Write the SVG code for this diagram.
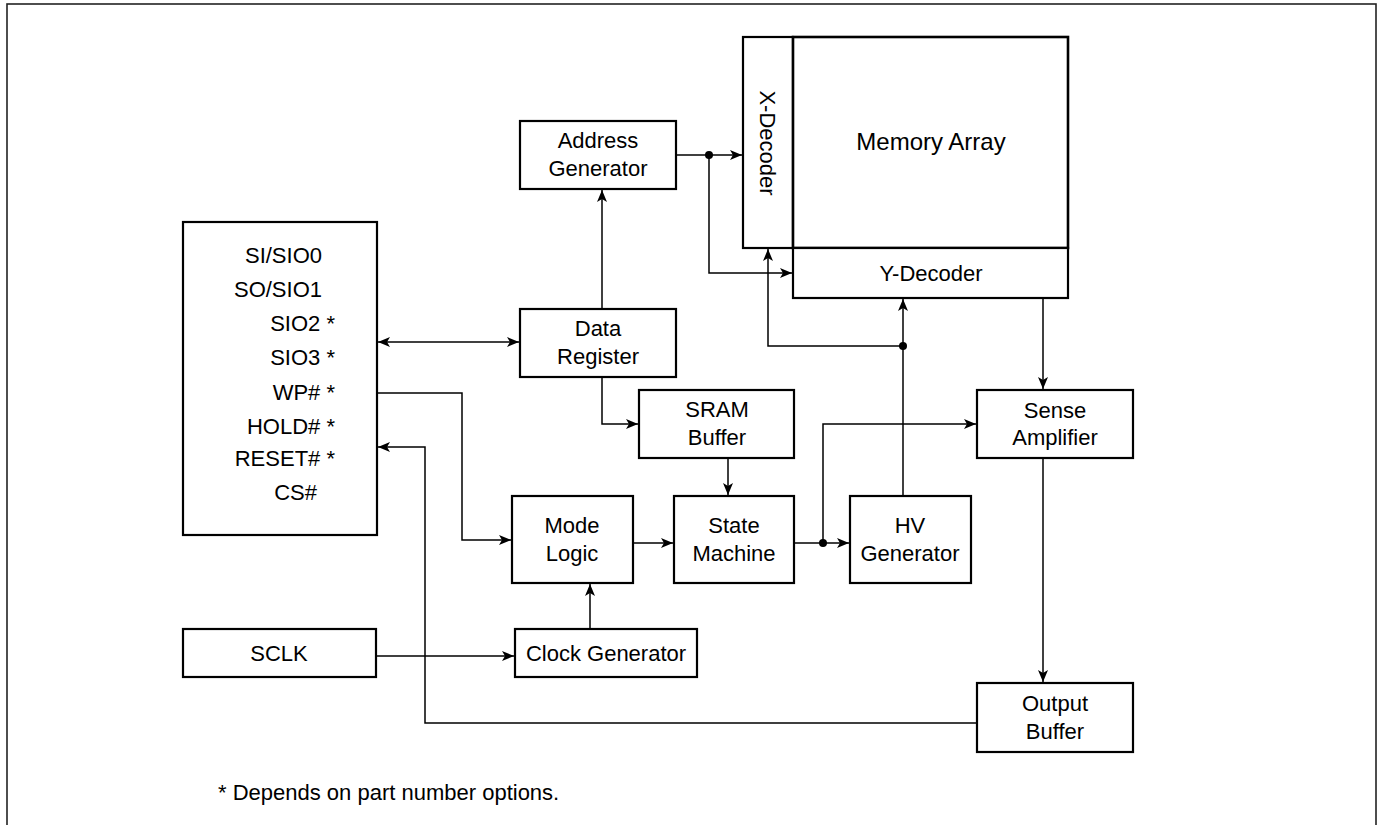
<svg xmlns="http://www.w3.org/2000/svg" width="1380" height="825" viewBox="0 0 1380 825">
<style>
.box{fill:#fff;stroke:#000;stroke-width:2.2}
.frame{fill:none;stroke:#222;stroke-width:1.6}
.t{font-family:"Liberation Sans",Arial,sans-serif;font-size:22px;fill:#000;text-anchor:middle}
.pin{font-family:"Liberation Sans",Arial,sans-serif;font-size:22px;fill:#000;text-anchor:end}
.c{fill:none;stroke:#000;stroke-width:1.5}
</style>
<defs>
<marker id="ah" markerUnits="userSpaceOnUse" markerWidth="14" markerHeight="12" refX="12" refY="5" orient="auto-start-reverse" viewBox="0 0 14 10">
<path d="M0,0 L12,5 L0,10 L3,5 z" fill="#000"/>
</marker>
</defs>
<rect x="0" y="0" width="1380" height="825" fill="#fff"/>
<rect class="frame" x="7" y="4" width="1369" height="840"/>

<g id="pins">
<rect class="box" x="183" y="222" width="194" height="313"/>
<text class="pin" x="322" y="263">SI/SIO0</text>
<text class="pin" x="322" y="297">SO/SIO1</text>
<text class="pin" x="335" y="331">SIO2 *</text>
<text class="pin" x="335" y="365">SIO3 *</text>
<text class="pin" x="335" y="400">WP# *</text>
<text class="pin" x="335" y="434">HOLD# *</text>
<text class="pin" x="335" y="466">RESET# *</text>
<text class="pin" x="317" y="500">CS#</text>
</g>

<g id="address-generator">
<rect class="box" x="520" y="121" width="156" height="68"/>
<text class="t" x="598" y="148">Address</text>
<text class="t" x="598" y="176">Generator</text>
</g>

<g id="data-register">
<rect class="box" x="520" y="309" width="156" height="68"/>
<text class="t" x="598" y="336">Data</text>
<text class="t" x="598" y="364">Register</text>
</g>

<g id="x-decoder">
<rect class="box" x="743" y="37" width="50" height="211"/>
<text class="t" transform="translate(760,143) rotate(90)">X-Decoder</text>
</g>

<g id="memory-array">
<rect class="box" x="793" y="37" width="275" height="211" style="stroke-width:2.6"/>
<text class="t" x="931" y="150" style="font-size:24px">Memory Array</text>
</g>

<g id="y-decoder">
<rect class="box" x="793" y="248" width="275" height="50"/>
<text class="t" x="931" y="281">Y-Decoder</text>
</g>

<g id="sram-buffer">
<rect class="box" x="639" y="390" width="155" height="68"/>
<text class="t" x="717" y="417">SRAM</text>
<text class="t" x="717" y="445">Buffer</text>
</g>

<g id="sense-amplifier">
<rect class="box" x="977" y="390" width="156" height="68"/>
<text class="t" x="1055" y="418">Sense</text>
<text class="t" x="1055" y="445">Amplifier</text>
</g>

<g id="mode-logic">
<rect class="box" x="512" y="496" width="121" height="87"/>
<text class="t" x="572" y="533">Mode</text>
<text class="t" x="572" y="561">Logic</text>
</g>

<g id="state-machine">
<rect class="box" x="674" y="496" width="120" height="87"/>
<text class="t" x="734" y="533">State</text>
<text class="t" x="734" y="561">Machine</text>
</g>

<g id="hv-generator">
<rect class="box" x="850" y="496" width="121" height="87"/>
<text class="t" x="910" y="533">HV</text>
<text class="t" x="910" y="561">Generator</text>
</g>

<g id="sclk">
<rect class="box" x="183" y="629" width="193" height="48"/>
<text class="t" x="279" y="661">SCLK</text>
</g>

<g id="clock-generator">
<rect class="box" x="515" y="629" width="182" height="48"/>
<text class="t" x="606" y="661">Clock Generator</text>
</g>

<g id="output-buffer">
<rect class="box" x="977" y="683" width="156" height="69"/>
<text class="t" x="1055" y="711">Output</text>
<text class="t" x="1055" y="739">Buffer</text>
</g>

<g id="connectors">
<line class="c" x1="378" y1="342" x2="519" y2="342" marker-start="url(#ah)" marker-end="url(#ah)"/>
<line class="c" x1="602" y1="309" x2="602" y2="190" marker-end="url(#ah)"/>
<line class="c" x1="676" y1="155" x2="742" y2="155" marker-end="url(#ah)"/>
<polyline class="c" points="709,155 709,273 792,273" marker-end="url(#ah)"/>
<line class="c" x1="903" y1="496" x2="903" y2="299" marker-end="url(#ah)"/>
<polyline class="c" points="903,346 768,346 768,249" marker-end="url(#ah)"/>
<line class="c" x1="1043" y1="298" x2="1043" y2="389" marker-end="url(#ah)"/>
<polyline class="c" points="602,377 602,424 638,424" marker-end="url(#ah)"/>
<line class="c" x1="728" y1="458" x2="728" y2="495" marker-end="url(#ah)"/>
<line class="c" x1="633" y1="543" x2="673" y2="543" marker-end="url(#ah)"/>
<line class="c" x1="794" y1="543" x2="849" y2="543" marker-end="url(#ah)"/>
<polyline class="c" points="823,543 823,424 976,424" marker-end="url(#ah)"/>
<polyline class="c" points="377,393 462,393 462,540 511,540" marker-end="url(#ah)"/>
<line class="c" x1="590" y1="629" x2="590" y2="584" marker-end="url(#ah)"/>
<line class="c" x1="376" y1="656" x2="514" y2="656" marker-end="url(#ah)"/>
<line class="c" x1="1043" y1="458" x2="1043" y2="682" marker-end="url(#ah)"/>
<polyline class="c" points="977,723 425,723 425,447 378,447" marker-end="url(#ah)"/>
<circle cx="709" cy="155" r="4" fill="#000"/>
<circle cx="903" cy="346" r="4" fill="#000"/>
<circle cx="823" cy="543" r="4" fill="#000"/>
</g>

<text class="t" x="218" y="800" style="text-anchor:start">* Depends on part number options.</text>
</svg>
